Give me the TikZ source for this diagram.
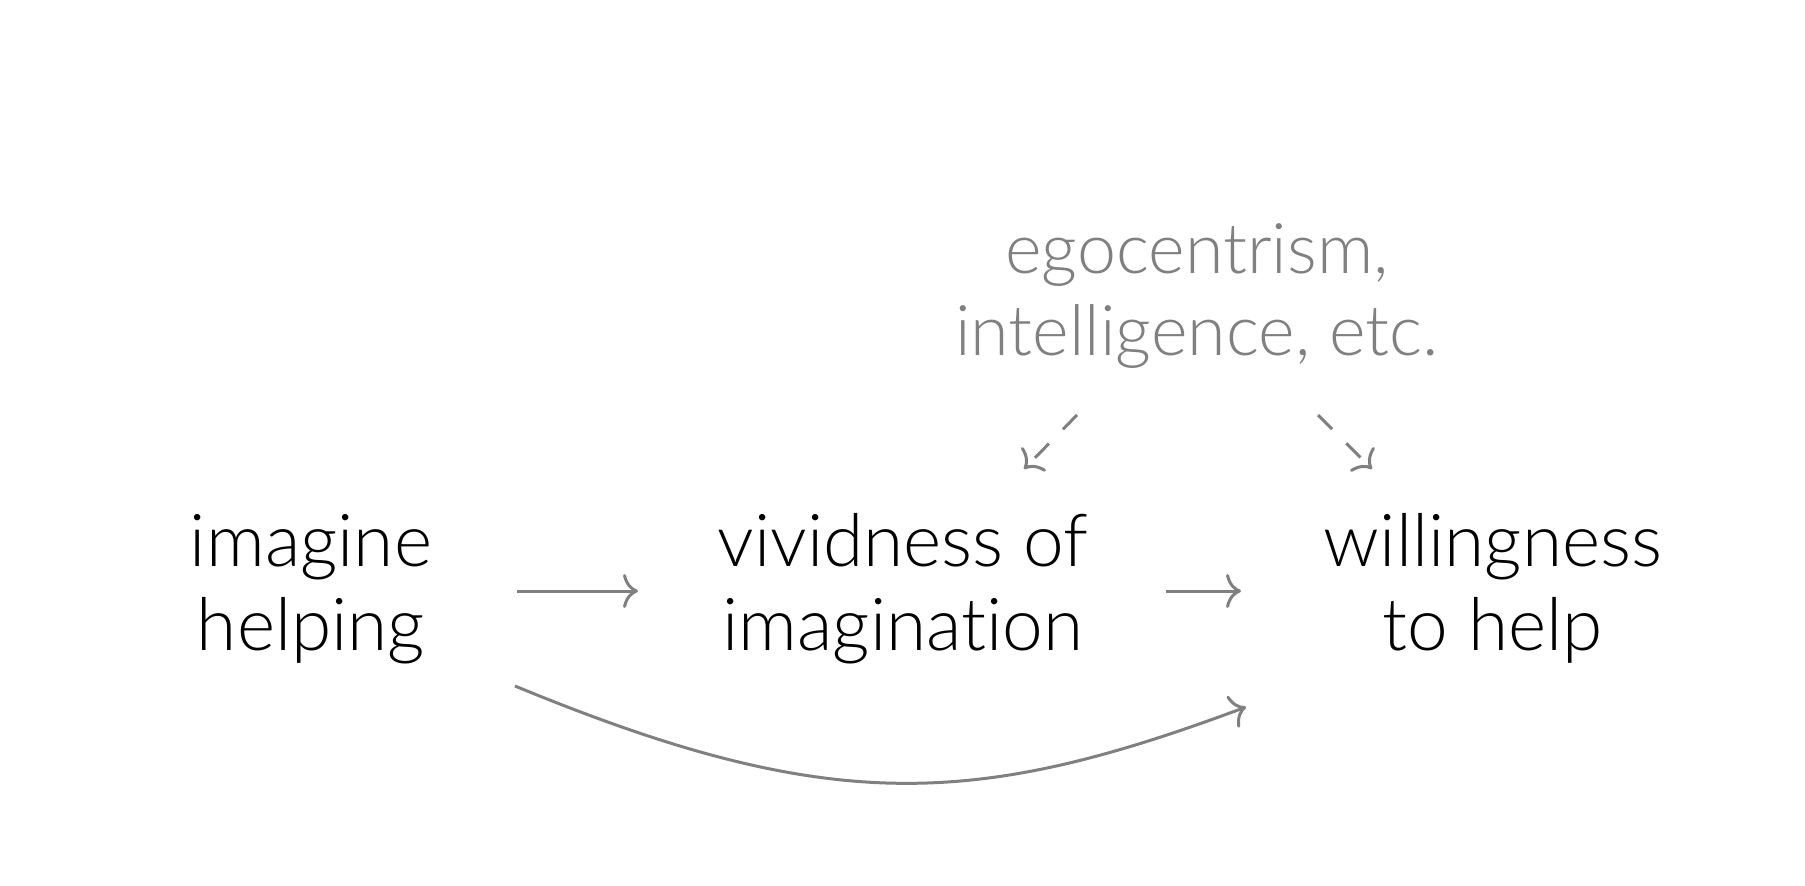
\documentclass[tikz,border=0pt]{standalone}
\usepackage{fontspec}
\setmainfont{Lato}[UprightFont={* Light},RawFeature=-liga]
\usetikzlibrary{arrows.meta,calc}
\definecolor{conn}{RGB}{128,128,128}
\begin{document}
\begin{tikzpicture}[x=1pt,y=-1pt,
  main/.style={align=center,inner sep=0pt,anchor=base,text=black,font=\fontsize{73}{84}\selectfont},
  side/.style={align=center,inner sep=0pt,anchor=base,text=conn,font=\fontsize{70}{82}\selectfont},
  conn/.style={draw=conn,line width=3pt,-{Computer Modern Rightarrow[length=15pt,width=34pt]}},
  dashconn/.style={conn,dash pattern=on 20pt off 20pt}]
\useasboundingbox (0,0) rectangle (1805,886);
\node[main] (ih) at (311,650) {imagine\\helping};
\node[main] (viv) at (903,650) {vividness of\\imagination};
\node[main] (wil) at (1493,650) {willingness\\to help};
\node[side] (eg) at (1197,355) {egocentrism,\\intelligence, etc.};
\draw[conn] ($(ih.base)+(206,-59)$) -- ($(viv.base)+(-265,-59)$);
\draw[conn] ($(viv.base)+(263,-59)$) -- ($(wil.base)+(-252,-59)$);
\draw[dashconn] ($(eg.base)+(-120,60)$) -- ($(viv.base)+(121,-181)$);
\draw[dashconn] ($(eg.base)+(121,60)$) -- ($(wil.base)+(-121,-181)$);
\draw[conn] ($(ih.base)+(204,36)$) .. controls ($(ih.base)+(519,166)$) and ($(wil.base)+(-518,158)$) .. ($(wil.base)+(-247,57)$);
\end{tikzpicture}
\end{document}
